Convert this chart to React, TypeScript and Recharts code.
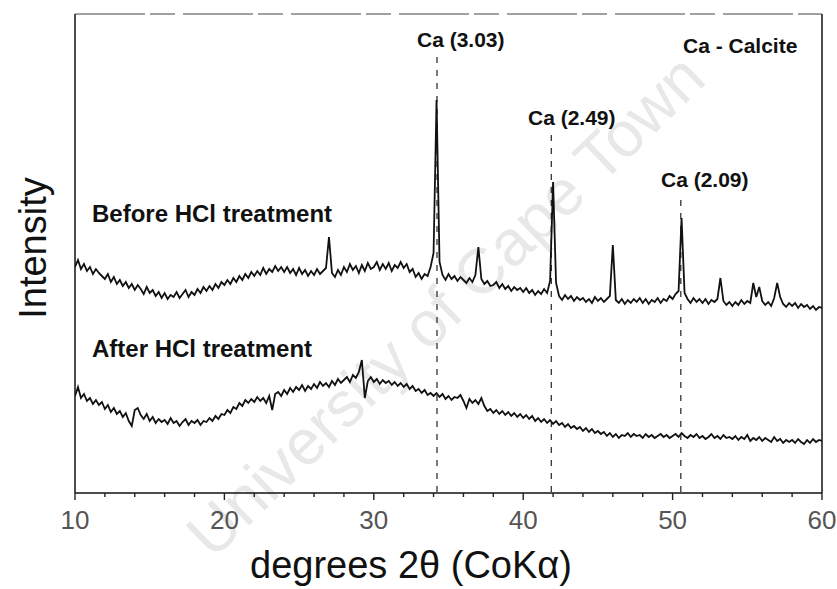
import { LineChart, Line, XAxis, YAxis, ReferenceLine } from 'recharts'

// scan sampled every 0.2 degrees 2θ, starting at 10
const ANGLE_START = 10
const ANGLE_STEP = 0.2

// intensity (arbitrary units) before HCl treatment
const BEFORE = [
  226, 233, 224, 229, 222, 226, 219, 224, 220, 217, // 10
  214, 219, 211, 216, 209, 213, 207, 211, 205, 209, // 12
  203, 208, 204, 199, 206, 200, 203, 197, 201, 195, // 14
  200, 194, 198, 196, 201, 195, 199, 203, 196, 201, // 16
  198, 204, 200, 206, 202, 207, 203, 209, 205, 211, // 18
  208, 213, 209, 215, 211, 217, 213, 219, 215, 221, // 20
  217, 222, 218, 225, 219, 224, 221, 227, 222, 226, // 22
  221, 226, 220, 224, 218, 225, 219, 223, 217, 222, // 24
  218, 224, 219, 222, 225, 256, 220, 216, 223, 218, // 26
  226, 221, 229, 223, 227, 220, 228, 222, 230, 224, // 28
  226, 231, 223, 229, 224, 230, 222, 228, 225, 231, // 30
  225, 229, 221, 224, 216, 220, 214, 219, 217, 226, // 32
  240, 393, 231, 218, 213, 219, 214, 217, 212, 216, // 34
  213, 210, 215, 211, 218, 246, 214, 209, 212, 207, // 36
  208, 211, 205, 209, 204, 207, 202, 206, 203, 205, // 38
  201, 205, 200, 203, 198, 202, 199, 204, 200, 212, // 40
  311, 210, 197, 193, 198, 194, 197, 192, 196, 193, // 42
  195, 191, 194, 190, 196, 192, 195, 191, 194, 197, // 44
  248, 193, 190, 194, 189, 193, 190, 194, 191, 195, // 46
  190, 194, 189, 193, 191, 195, 190, 194, 192, 197, // 48
  194, 199, 202, 275, 200, 194, 190, 195, 191, 194, // 50
  190, 194, 189, 193, 191, 194, 215, 192, 188, 191, // 52
  187, 191, 188, 193, 189, 192, 190, 210, 196, 206, // 54
  192, 188, 191, 187, 195, 210, 196, 189, 186, 190, // 56
  187, 190, 185, 189, 186, 188, 184, 187, 183, 186, // 58
  185,
]

// intensity after HCl treatment
const AFTER = [
  97, 106, 95, 99, 92, 95, 89, 93, 88, 91,
  84, 88, 81, 85, 79, 82, 76, 80, 72, 67,
  83, 85, 78, 74, 79, 72, 76, 70, 74, 71,
  73, 69, 75, 70, 72, 67, 71, 74, 68, 72,
  70, 73, 68, 72, 71, 75, 72, 77, 74, 79,
  78, 83, 80, 86, 84, 90, 87, 93, 90, 94,
  91, 96, 92, 95, 90, 97, 83, 99, 101, 97,
  103, 99, 105, 101, 106, 103, 108, 102, 107, 104,
  109, 105, 111, 107, 110, 106, 112, 108, 114, 110,
  113, 116, 111, 118, 115, 121, 133, 95, 112, 116,
  111, 114, 109, 113, 110, 112, 108, 111, 107, 110,
  106, 109, 104, 107, 102, 104, 100, 103, 98, 100,
  97, 100, 96, 99, 94, 97, 93, 96, 95, 98,
  92, 85, 94, 90, 93, 89, 95, 87, 82, 84,
  80, 83, 79, 82, 78, 81, 77, 80, 76, 79,
  75, 78, 74, 77, 72, 75, 71, 74, 70, 73,
  69, 72, 68, 70, 66, 69, 65, 67, 64, 66,
  62, 65, 61, 64, 60, 62, 59, 61, 57, 60,
  56, 59, 55, 58, 57, 60, 56, 59, 57, 58,
  55, 59, 56, 58, 55, 57, 59, 56, 58, 55,
  57, 59, 56, 60, 57, 55, 58, 56, 59, 55,
  57, 54, 56, 59, 55, 57, 54, 58, 55, 56,
  54, 57, 53, 56, 54, 58, 52, 55, 53, 56,
  52, 55, 53, 51, 56, 52, 54, 50, 53, 51,
  53, 50, 54, 51, 49, 53, 50, 54, 51, 53,
  52,
]

const X_TICKS = [10, 12, 14, 16, 18, 20, 22, 24, 26, 28, 30, 32, 34, 36, 38, 40, 42, 44, 46, 48, 50, 52, 54, 56, 58, 60]

// calcite reflections: angle and top of the dashed marker
const CALCITE_ANGLES = [34.23, 41.88, 50.55]
const CALCITE_TOPS = [436, 358, 293]

const Y_MAX = 479
const FONT = '"Liberation Sans", Arial, sans-serif'

const data = BEFORE.map((before, i) => ({
  angle: +(ANGLE_START + i * ANGLE_STEP).toFixed(1),
  before,
  after: AFTER[i],
}))

function AngleTick(props: any) {
  const { x, y, payload } = props
  const major = payload.value % 10 === 0
  return (
    <g>
      <line x1={x} x2={x} y1={y} y2={y + (major ? 7 : 4)} stroke="#222" strokeWidth={1.4} />
      {major && (
        <text x={x} y={y + 36} textAnchor="middle" fontSize={26} fill="#555" fontFamily={FONT}>
          {payload.value}
        </text>
      )}
    </g>
  )
}

export default function App() {
  return (
    <div style={{ position: 'absolute', left: 0, top: 0, width: 837, height: 589, fontFamily: FONT }}>
      <svg width={837} height={589} style={{ position: 'absolute', left: 0, top: 0 }}>
        <text
          transform="translate(445,305) rotate(-44)"
          textAnchor="middle"
          dy="0.35em"
          fontSize={64}
          fill="#e8e8e8"
          fontFamily={FONT}
        >
          University of Cape Town
        </text>
      </svg>
      <div style={{ position: 'absolute', left: 0, top: 0 }}>
        <LineChart width={837} height={589} data={data} margin={{ top: 14, right: 15, bottom: 66, left: 75 }}>
          <XAxis
            dataKey="angle"
            type="number"
            domain={[10, 60]}
            ticks={X_TICKS}
            interval={0}
            height={30}
            tickSize={0}
            tickMargin={0}
            tickLine={false}
            tick={<AngleTick />}
            axisLine={{ stroke: '#111', strokeWidth: 1.5 }}
            allowDataOverflow
          />
          <YAxis hide domain={[0, Y_MAX]} allowDataOverflow />
          <ReferenceLine x={10} stroke="#111" strokeWidth={1.5} />
          <ReferenceLine x={60} stroke="#111" strokeWidth={1.5} />
          <ReferenceLine y={Y_MAX} stroke="#444" strokeWidth={1} strokeDasharray="70 5 25 8" />
          {CALCITE_ANGLES.map((a, i) => (
            <ReferenceLine
              key={a}
              segment={[
                { x: a, y: CALCITE_TOPS[i] },
                { x: a, y: 0 },
              ]}
              stroke="#222"
              strokeWidth={1.2}
              strokeDasharray="6 7"
            />
          ))}
          <Line
            type="linear"
            dataKey="before"
            stroke="#111"
            strokeWidth={1.8}
            dot={false}
            isAnimationActive={false}
          />
          <Line
            type="linear"
            dataKey="after"
            stroke="#111"
            strokeWidth={1.8}
            dot={false}
            isAnimationActive={false}
          />
        </LineChart>
      </div>
      <svg
        width={837}
        height={589}
        style={{ position: 'absolute', left: 0, top: 0, pointerEvents: 'none' }}
        fontFamily={FONT}
        fill="#111"
      >
        <g fontWeight="bold">
          <text x={417} y={47} fontSize={21}>Ca (3.03)</text>
          <text x={528} y={125} fontSize={21}>Ca (2.49)</text>
          <text x={661} y={187} fontSize={21}>Ca (2.09)</text>
          <text x={683} y={53} fontSize={21}>Ca - Calcite</text>
          <text x={92} y={222} fontSize={24}>Before HCl treatment</text>
          <text x={92} y={357} fontSize={24}>After HCl treatment</text>
        </g>
        <text transform="translate(46,248) rotate(-90)" textAnchor="middle" fontSize={38}>
          Intensity
        </text>
        <text x={411} y={578} textAnchor="middle" fontSize={38}>
          degrees 2θ (CoKα)
        </text>
      </svg>
    </div>
  )
}
